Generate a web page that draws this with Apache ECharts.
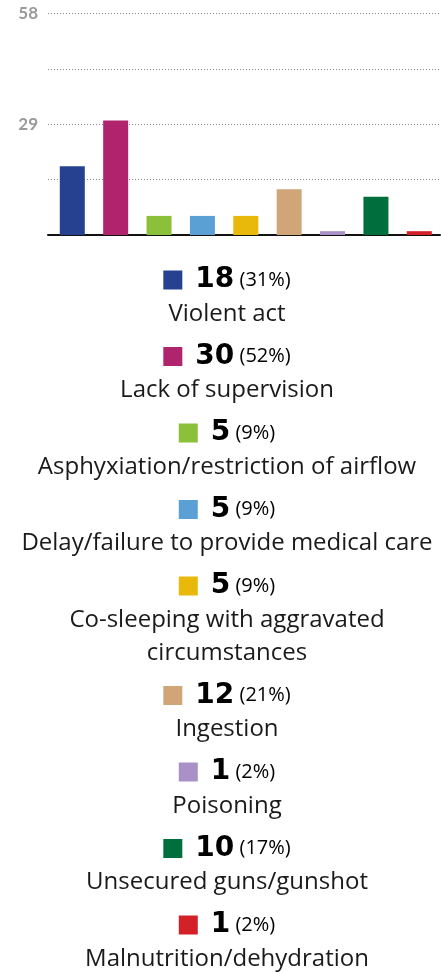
<!DOCTYPE html>
<html><head><meta charset="utf-8">
<script src="https://cdn.jsdelivr.net/npm/echarts@6/dist/echarts.min.js"></script>
<style>html,body{margin:0;padding:0;background:#fff}#c{width:441px;height:972px}</style>
</head><body><div id="c"></div>
<script>
const categories = ['Violent act', 'Lack of supervision', 'Asphyxiation/restriction of airflow', 'Delay/failure to provide medical care', 'Co-sleeping with aggravated\ncircumstances', 'Ingestion', 'Poisoning', 'Unsecured guns/gunshot', 'Malnutrition/dehydration'];
const counts = [18, 30, 5, 5, 5, 12, 1, 10, 1];
const percents = [31, 52, 9, 9, 9, 21, 2, 17, 2];
const colors = ['#26418f', '#b0246d', '#8bc03a', '#5aa0d5', '#e8b90b', '#d0a577', '#a990c6', '#006f3e', '#d42127'];
const yMax = 58;
const yInterval = 14.5;
const yTickLabels = [29, 58];

const chart = echarts.init(document.getElementById('c'), null, {renderer: 'canvas'});

const graphics = [];
let y = 280;
const cx = 227;
categories.forEach((cat, i) => {
  graphics.push({
    type: 'text', x: cx, y: y,
    style: {
      text: '{sq| }{gap| }{num|' + counts[i] + '}{pct| (' + percents[i] + '%)}',
      align: 'center', verticalAlign: 'middle',
      rich: {
        sq: {width: 19, height: 19, backgroundColor: colors[i], fontSize: 1},
        gap: {width: 13, fontSize: 1},
        num: {fontFamily: 'DejaVu Sans', fontWeight: 'bold', fontSize: 28, color: '#000'},
        pct: {fontFamily: 'Open Sans', fontSize: 20, color: '#222'}
      }
    }
  });
  const lines = cat.split('\n');
  lines.forEach((ln, k) => {
    graphics.push({
      type: 'text', x: cx, y: y + 34 + k * 33,
      style: {text: ln, align: 'center', verticalAlign: 'middle', fontFamily: 'Open Sans', fontSize: 24, fill: '#1a1a1a'}
    });
  });
  y += 34 + (lines.length - 1) * 33 + 42.5;
});

chart.setOption({
  animation: false,
  grid: [
    {left: 48, top: 13.5, width: 392, height: 221.5},
    {left: 50.6, top: 13.5, width: 393.75, height: 221.5}
  ],
  xAxis: [
    {gridIndex: 0, type: 'category', data: categories, axisLine: {show: true, lineStyle: {color: '#111', width: 2}}, axisTick: {show: false}, axisLabel: {show: false}},
    {gridIndex: 1, type: 'category', data: categories, show: false}
  ],
  yAxis: [
    {gridIndex: 0, type: 'value', min: 0, max: yMax, interval: yInterval,
      axisLine: {show: false}, axisTick: {show: false},
      splitLine: {show: true, lineStyle: {type: [1, 2], color: '#888', width: 1}},
      axisLabel: {margin: 10, color: '#9a9a9a', fontSize: 17, fontWeight: 'bold', fontFamily: 'Lato',
        formatter: v => yTickLabels.includes(v) ? String(v) : ''}},
    {gridIndex: 1, type: 'value', min: 0, max: yMax, interval: yInterval, show: false, splitLine: {show: false}}
  ],
  series: [{
    type: 'bar', xAxisIndex: 1, yAxisIndex: 1, barWidth: 25,
    data: counts.map((v, i) => ({value: v, itemStyle: {color: colors[i]}}))
  }],
  graphic: graphics
});
</script></body></html>
